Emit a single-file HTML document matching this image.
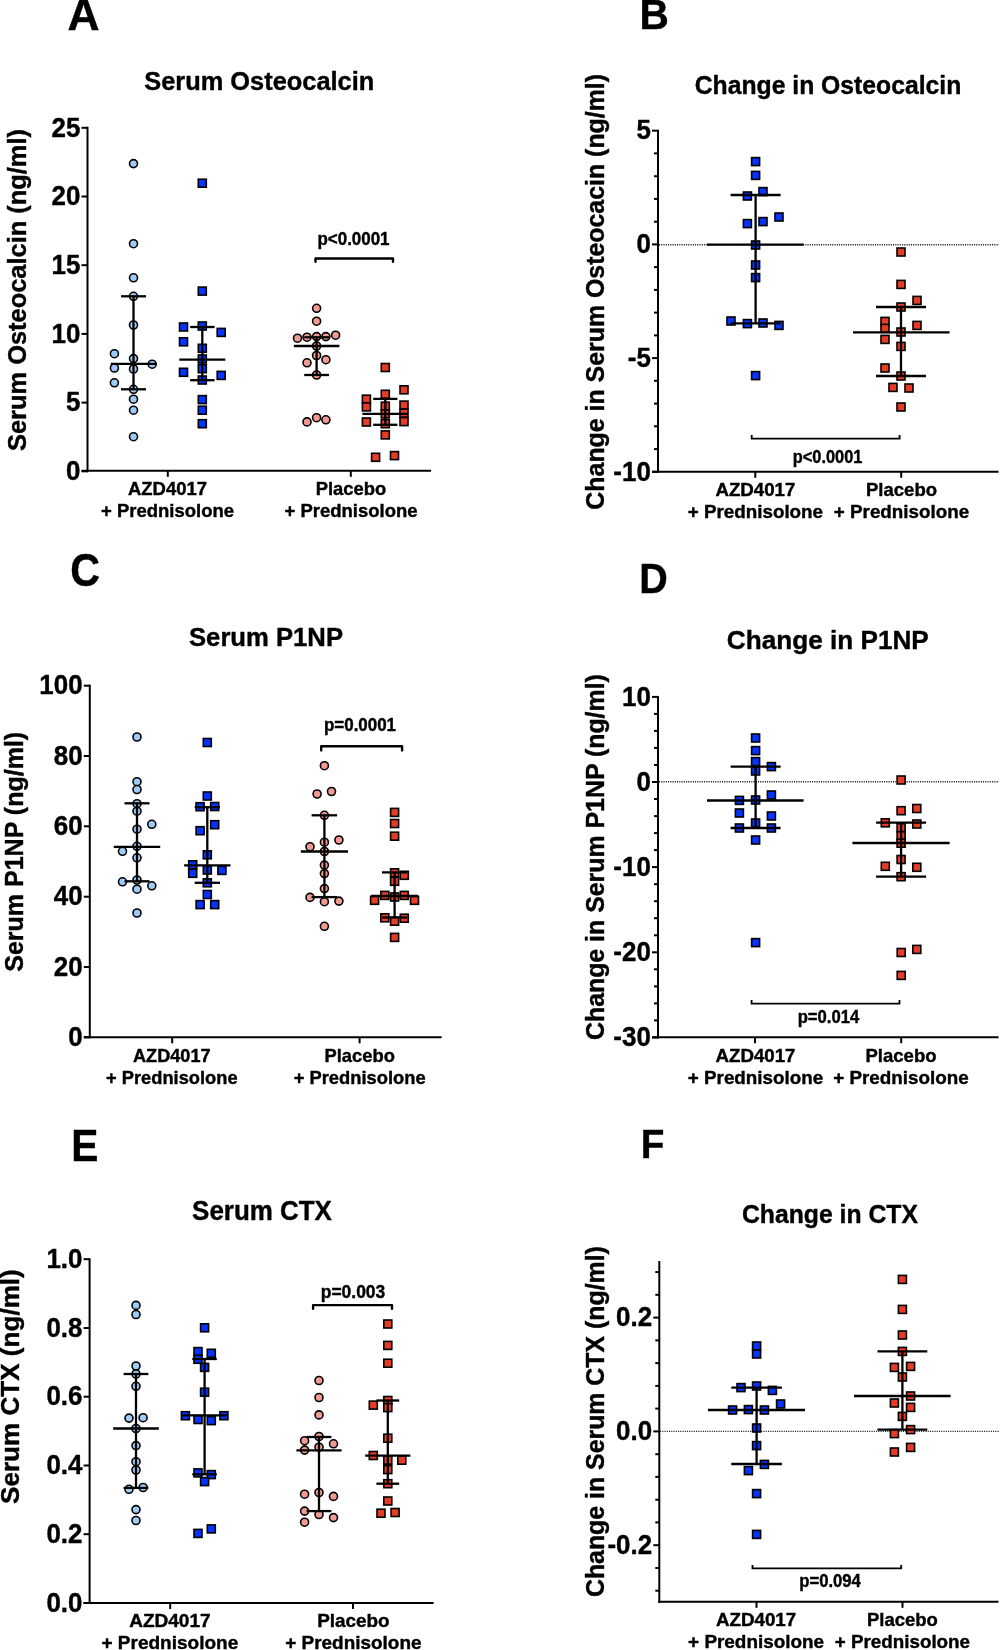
<!DOCTYPE html>
<html><head><meta charset="utf-8"><title>Figure</title>
<style>
html,body{margin:0;padding:0;background:#fff;}
body{width:1000px;height:1650px;overflow:hidden;}
svg{display:block;will-change:transform;}
text{font-family:"Liberation Sans",sans-serif;font-weight:bold;fill:#000;stroke:#000;stroke-width:0.4px;stroke-linejoin:round;}
</style></head>
<body>
<svg width="1000" height="1650" viewBox="0 0 1000 1650">
<rect width="1000" height="1650" fill="#fff"/>
<text transform="translate(67.39,29.75) scale(1.0128,1)" x="0" y="0" font-size="43.84">A</text>
<text x="259.3" y="90.1" font-size="26.5" text-anchor="middle" textLength="230.0" lengthAdjust="spacingAndGlyphs" >Serum Osteocalcin</text>
<text transform="translate(26.2,290.0) rotate(-90)" x="0" y="0" font-size="25.5" text-anchor="middle" textLength="322.0" lengthAdjust="spacingAndGlyphs">Serum Osteocalcin (ng/ml)</text>
<line x1="87.5" y1="126.8" x2="87.5" y2="472.3" stroke="#000" stroke-width="2" />
<line x1="81.5" y1="127.8" x2="87.5" y2="127.8" stroke="#000" stroke-width="2" />
<line x1="81.5" y1="196.5" x2="87.5" y2="196.5" stroke="#000" stroke-width="2" />
<line x1="81.5" y1="265.2" x2="87.5" y2="265.2" stroke="#000" stroke-width="2" />
<line x1="81.5" y1="333.9" x2="87.5" y2="333.9" stroke="#000" stroke-width="2" />
<line x1="81.5" y1="402.6" x2="87.5" y2="402.6" stroke="#000" stroke-width="2" />
<line x1="81.5" y1="471.3" x2="87.5" y2="471.3" stroke="#000" stroke-width="2" />
<text transform="translate(80.30,136.55) scale(0.96,1)" x="0" y="0" font-size="27" text-anchor="end">25</text>
<text transform="translate(80.30,205.25) scale(0.96,1)" x="0" y="0" font-size="27" text-anchor="end">20</text>
<text transform="translate(80.30,273.95) scale(0.96,1)" x="0" y="0" font-size="27" text-anchor="end">15</text>
<text transform="translate(80.30,342.65) scale(0.96,1)" x="0" y="0" font-size="27" text-anchor="end">10</text>
<text transform="translate(80.30,411.35) scale(0.96,1)" x="0" y="0" font-size="27" text-anchor="end">5</text>
<text transform="translate(80.30,480.05) scale(0.96,1)" x="0" y="0" font-size="27" text-anchor="end">0</text>
<line x1="81.5" y1="470.8" x2="431.0" y2="470.8" stroke="#000" stroke-width="2" />
<line x1="167.8" y1="470.8" x2="167.8" y2="476.8" stroke="#000" stroke-width="2" />
<line x1="350.8" y1="470.8" x2="350.8" y2="476.8" stroke="#000" stroke-width="2" />
<text x="167.5" y="495.0" font-size="18.5" text-anchor="middle" textLength="79.0" lengthAdjust="spacingAndGlyphs" >AZD4017</text>
<text x="167.5" y="516.8" font-size="18.5" text-anchor="middle" textLength="133.0" lengthAdjust="spacingAndGlyphs" >+ Prednisolone</text>
<text x="351.0" y="495.0" font-size="18.5" text-anchor="middle" textLength="70.5" lengthAdjust="spacingAndGlyphs" >Placebo</text>
<text x="351.0" y="516.8" font-size="18.5" text-anchor="middle" textLength="133.0" lengthAdjust="spacingAndGlyphs" >+ Prednisolone</text>
<circle cx="133.50" cy="163.60" r="4.0" fill="#9ecbf5" stroke="#000" stroke-width="1.6"/>
<circle cx="133.50" cy="243.70" r="4.0" fill="#9ecbf5" stroke="#000" stroke-width="1.6"/>
<circle cx="133.50" cy="277.80" r="4.0" fill="#9ecbf5" stroke="#000" stroke-width="1.6"/>
<circle cx="133.50" cy="296.30" r="4.0" fill="#9ecbf5" stroke="#000" stroke-width="1.6"/>
<circle cx="133.50" cy="325.00" r="4.0" fill="#9ecbf5" stroke="#000" stroke-width="1.6"/>
<circle cx="114.40" cy="353.70" r="4.0" fill="#9ecbf5" stroke="#000" stroke-width="1.6"/>
<circle cx="133.50" cy="358.60" r="4.0" fill="#9ecbf5" stroke="#000" stroke-width="1.6"/>
<circle cx="152.20" cy="364.20" r="4.0" fill="#9ecbf5" stroke="#000" stroke-width="1.6"/>
<circle cx="114.40" cy="368.00" r="4.0" fill="#9ecbf5" stroke="#000" stroke-width="1.6"/>
<circle cx="133.50" cy="369.00" r="4.0" fill="#9ecbf5" stroke="#000" stroke-width="1.6"/>
<circle cx="114.40" cy="382.80" r="4.0" fill="#9ecbf5" stroke="#000" stroke-width="1.6"/>
<circle cx="133.50" cy="389.30" r="4.0" fill="#9ecbf5" stroke="#000" stroke-width="1.6"/>
<circle cx="133.50" cy="399.20" r="4.0" fill="#9ecbf5" stroke="#000" stroke-width="1.6"/>
<circle cx="133.50" cy="410.20" r="4.0" fill="#9ecbf5" stroke="#000" stroke-width="1.6"/>
<circle cx="133.50" cy="436.70" r="4.0" fill="#9ecbf5" stroke="#000" stroke-width="1.6"/>
<line x1="133.5" y1="296.3" x2="133.5" y2="389.3" stroke="#000" stroke-width="2.3" />
<line x1="121.0" y1="296.3" x2="146.0" y2="296.3" stroke="#000" stroke-width="2.3" />
<line x1="121.0" y1="389.3" x2="146.0" y2="389.3" stroke="#000" stroke-width="2.3" />
<line x1="110.8" y1="363.8" x2="156.2" y2="363.8" stroke="#000" stroke-width="2.3" />
<rect x="198.30" y="179.20" width="8.0" height="8.0" fill="#0533ff" stroke="#000" stroke-width="1.6"/>
<rect x="198.30" y="287.10" width="8.0" height="8.0" fill="#0533ff" stroke="#000" stroke-width="1.6"/>
<rect x="179.50" y="323.00" width="8.0" height="8.0" fill="#0533ff" stroke="#000" stroke-width="1.6"/>
<rect x="198.30" y="322.00" width="8.0" height="8.0" fill="#0533ff" stroke="#000" stroke-width="1.6"/>
<rect x="217.20" y="328.40" width="8.0" height="8.0" fill="#0533ff" stroke="#000" stroke-width="1.6"/>
<rect x="179.50" y="337.80" width="8.0" height="8.0" fill="#0533ff" stroke="#000" stroke-width="1.6"/>
<rect x="198.30" y="344.30" width="8.0" height="8.0" fill="#0533ff" stroke="#000" stroke-width="1.6"/>
<rect x="198.30" y="355.00" width="8.0" height="8.0" fill="#0533ff" stroke="#000" stroke-width="1.6"/>
<rect x="198.30" y="364.70" width="8.0" height="8.0" fill="#0533ff" stroke="#000" stroke-width="1.6"/>
<rect x="179.50" y="368.30" width="8.0" height="8.0" fill="#0533ff" stroke="#000" stroke-width="1.6"/>
<rect x="217.20" y="371.40" width="8.0" height="8.0" fill="#0533ff" stroke="#000" stroke-width="1.6"/>
<rect x="198.30" y="376.00" width="8.0" height="8.0" fill="#0533ff" stroke="#000" stroke-width="1.6"/>
<rect x="198.30" y="395.60" width="8.0" height="8.0" fill="#0533ff" stroke="#000" stroke-width="1.6"/>
<rect x="198.30" y="406.20" width="8.0" height="8.0" fill="#0533ff" stroke="#000" stroke-width="1.6"/>
<rect x="198.30" y="419.70" width="8.0" height="8.0" fill="#0533ff" stroke="#000" stroke-width="1.6"/>
<line x1="202.3" y1="327.0" x2="202.3" y2="380.2" stroke="#000" stroke-width="2.3" />
<line x1="190.1" y1="327.0" x2="214.6" y2="327.0" stroke="#000" stroke-width="2.3" />
<line x1="190.1" y1="380.2" x2="214.6" y2="380.2" stroke="#000" stroke-width="2.3" />
<line x1="179.3" y1="359.6" x2="225.3" y2="359.6" stroke="#000" stroke-width="2.3" />
<circle cx="316.60" cy="308.30" r="4.0" fill="#f19a91" stroke="#000" stroke-width="1.6"/>
<circle cx="316.60" cy="321.20" r="4.0" fill="#f19a91" stroke="#000" stroke-width="1.6"/>
<circle cx="297.50" cy="338.20" r="4.0" fill="#f19a91" stroke="#000" stroke-width="1.6"/>
<circle cx="307.00" cy="337.20" r="4.0" fill="#f19a91" stroke="#000" stroke-width="1.6"/>
<circle cx="316.60" cy="336.60" r="4.0" fill="#f19a91" stroke="#000" stroke-width="1.6"/>
<circle cx="325.90" cy="336.60" r="4.0" fill="#f19a91" stroke="#000" stroke-width="1.6"/>
<circle cx="335.60" cy="335.20" r="4.0" fill="#f19a91" stroke="#000" stroke-width="1.6"/>
<circle cx="316.60" cy="346.00" r="4.0" fill="#f19a91" stroke="#000" stroke-width="1.6"/>
<circle cx="316.60" cy="355.50" r="4.0" fill="#f19a91" stroke="#000" stroke-width="1.6"/>
<circle cx="307.00" cy="362.80" r="4.0" fill="#f19a91" stroke="#000" stroke-width="1.6"/>
<circle cx="325.90" cy="359.70" r="4.0" fill="#f19a91" stroke="#000" stroke-width="1.6"/>
<circle cx="316.60" cy="375.00" r="4.0" fill="#f19a91" stroke="#000" stroke-width="1.6"/>
<circle cx="307.00" cy="421.90" r="4.0" fill="#f19a91" stroke="#000" stroke-width="1.6"/>
<circle cx="316.60" cy="417.70" r="4.0" fill="#f19a91" stroke="#000" stroke-width="1.6"/>
<circle cx="325.90" cy="419.80" r="4.0" fill="#f19a91" stroke="#000" stroke-width="1.6"/>
<line x1="316.6" y1="337.3" x2="316.6" y2="375.0" stroke="#000" stroke-width="2.3" />
<line x1="304.2" y1="337.3" x2="329.0" y2="337.3" stroke="#000" stroke-width="2.3" />
<line x1="304.2" y1="375.0" x2="329.0" y2="375.0" stroke="#000" stroke-width="2.3" />
<line x1="293.9" y1="346.0" x2="339.4" y2="346.0" stroke="#000" stroke-width="2.3" />
<rect x="381.30" y="363.50" width="8.0" height="8.0" fill="#e63c27" stroke="#000" stroke-width="1.6"/>
<rect x="400.00" y="385.80" width="8.0" height="8.0" fill="#e63c27" stroke="#000" stroke-width="1.6"/>
<rect x="381.30" y="390.30" width="8.0" height="8.0" fill="#e63c27" stroke="#000" stroke-width="1.6"/>
<rect x="362.40" y="395.20" width="8.0" height="8.0" fill="#e63c27" stroke="#000" stroke-width="1.6"/>
<rect x="362.40" y="402.90" width="8.0" height="8.0" fill="#e63c27" stroke="#000" stroke-width="1.6"/>
<rect x="381.30" y="402.20" width="8.0" height="8.0" fill="#e63c27" stroke="#000" stroke-width="1.6"/>
<rect x="400.00" y="401.10" width="8.0" height="8.0" fill="#e63c27" stroke="#000" stroke-width="1.6"/>
<rect x="400.00" y="409.20" width="8.0" height="8.0" fill="#e63c27" stroke="#000" stroke-width="1.6"/>
<rect x="381.30" y="409.90" width="8.0" height="8.0" fill="#e63c27" stroke="#000" stroke-width="1.6"/>
<rect x="400.00" y="417.60" width="8.0" height="8.0" fill="#e63c27" stroke="#000" stroke-width="1.6"/>
<rect x="362.40" y="418.00" width="8.0" height="8.0" fill="#e63c27" stroke="#000" stroke-width="1.6"/>
<rect x="381.30" y="419.70" width="8.0" height="8.0" fill="#e63c27" stroke="#000" stroke-width="1.6"/>
<rect x="381.30" y="430.90" width="8.0" height="8.0" fill="#e63c27" stroke="#000" stroke-width="1.6"/>
<rect x="371.60" y="453.30" width="8.0" height="8.0" fill="#e63c27" stroke="#000" stroke-width="1.6"/>
<rect x="390.50" y="451.60" width="8.0" height="8.0" fill="#e63c27" stroke="#000" stroke-width="1.6"/>
<line x1="385.3" y1="398.9" x2="385.3" y2="424.8" stroke="#000" stroke-width="2.3" />
<line x1="373.2" y1="398.9" x2="397.4" y2="398.9" stroke="#000" stroke-width="2.3" />
<line x1="373.2" y1="424.8" x2="397.4" y2="424.8" stroke="#000" stroke-width="2.3" />
<line x1="362.4" y1="413.9" x2="408.2" y2="413.9" stroke="#000" stroke-width="2.3" />
<text x="353.5" y="245.2" font-size="17.9" text-anchor="middle" textLength="72.0" lengthAdjust="spacingAndGlyphs" >p&lt;0.0001</text>
<path d="M315.5,261.8 L315.5,258.5 L393.0,258.5 L393.0,261.8" fill="none" stroke="#000" stroke-width="2.4" stroke-linecap="round" stroke-linejoin="round"/>
<text transform="translate(639.56,28.80) scale(0.9477,1)" x="0" y="0" font-size="42.90">B</text>
<text x="828.0" y="94.1" font-size="26.2" text-anchor="middle" textLength="266.5" lengthAdjust="spacingAndGlyphs" >Change in Osteocalcin</text>
<text transform="translate(603.9,291.8) rotate(-90)" x="0" y="0" font-size="26" text-anchor="middle" textLength="435.7" lengthAdjust="spacingAndGlyphs">Change in Serum Osteocacin (ng/ml)</text>
<line x1="658.0" y1="129.7" x2="658.0" y2="472.8" stroke="#000" stroke-width="2" />
<line x1="652.0" y1="130.7" x2="658.0" y2="130.7" stroke="#000" stroke-width="2" />
<line x1="652.0" y1="244.4" x2="658.0" y2="244.4" stroke="#000" stroke-width="2" />
<line x1="652.0" y1="358.1" x2="658.0" y2="358.1" stroke="#000" stroke-width="2" />
<line x1="652.0" y1="471.8" x2="658.0" y2="471.8" stroke="#000" stroke-width="2" />
<line x1="654.0" y1="449.1" x2="658.0" y2="449.1" stroke="#000" stroke-width="2" />
<line x1="654.0" y1="426.3" x2="658.0" y2="426.3" stroke="#000" stroke-width="2" />
<line x1="654.0" y1="403.6" x2="658.0" y2="403.6" stroke="#000" stroke-width="2" />
<line x1="654.0" y1="380.8" x2="658.0" y2="380.8" stroke="#000" stroke-width="2" />
<line x1="654.0" y1="335.4" x2="658.0" y2="335.4" stroke="#000" stroke-width="2" />
<line x1="654.0" y1="312.6" x2="658.0" y2="312.6" stroke="#000" stroke-width="2" />
<line x1="654.0" y1="289.9" x2="658.0" y2="289.9" stroke="#000" stroke-width="2" />
<line x1="654.0" y1="267.1" x2="658.0" y2="267.1" stroke="#000" stroke-width="2" />
<line x1="654.0" y1="221.7" x2="658.0" y2="221.7" stroke="#000" stroke-width="2" />
<line x1="654.0" y1="198.9" x2="658.0" y2="198.9" stroke="#000" stroke-width="2" />
<line x1="654.0" y1="176.2" x2="658.0" y2="176.2" stroke="#000" stroke-width="2" />
<line x1="654.0" y1="153.4" x2="658.0" y2="153.4" stroke="#000" stroke-width="2" />
<text transform="translate(650.80,139.45) scale(0.96,1)" x="0" y="0" font-size="27" text-anchor="end">5</text>
<text transform="translate(650.80,253.15) scale(0.96,1)" x="0" y="0" font-size="27" text-anchor="end">0</text>
<text transform="translate(650.80,366.85) scale(0.96,1)" x="0" y="0" font-size="27" text-anchor="end">-5</text>
<text transform="translate(650.80,480.55) scale(0.96,1)" x="0" y="0" font-size="27" text-anchor="end">-10</text>
<line x1="659.0" y1="244.7" x2="999.0" y2="244.7" stroke="#222" stroke-width="1.4" stroke-dasharray="1.1,1.15"/>
<line x1="652.0" y1="471.8" x2="998.5" y2="471.8" stroke="#000" stroke-width="2" />
<line x1="755.3" y1="471.8" x2="755.3" y2="477.8" stroke="#000" stroke-width="2" />
<line x1="901.2" y1="471.8" x2="901.2" y2="477.8" stroke="#000" stroke-width="2" />
<text x="755.4" y="496.0" font-size="18.5" text-anchor="middle" textLength="80.0" lengthAdjust="spacingAndGlyphs" >AZD4017</text>
<text x="755.4" y="518.1" font-size="18.5" text-anchor="middle" textLength="135.3" lengthAdjust="spacingAndGlyphs" >+ Prednisolone</text>
<text x="901.5" y="496.0" font-size="18.5" text-anchor="middle" textLength="71.0" lengthAdjust="spacingAndGlyphs" >Placebo</text>
<text x="901.5" y="518.1" font-size="18.5" text-anchor="middle" textLength="135.3" lengthAdjust="spacingAndGlyphs" >+ Prednisolone</text>
<rect x="751.60" y="157.60" width="8.0" height="8.0" fill="#0533ff" stroke="#000" stroke-width="1.6"/>
<rect x="751.60" y="171.40" width="8.0" height="8.0" fill="#0533ff" stroke="#000" stroke-width="1.6"/>
<rect x="743.40" y="192.00" width="8.0" height="8.0" fill="#0533ff" stroke="#000" stroke-width="1.6"/>
<rect x="759.00" y="187.60" width="8.0" height="8.0" fill="#0533ff" stroke="#000" stroke-width="1.6"/>
<rect x="775.00" y="213.00" width="8.0" height="8.0" fill="#0533ff" stroke="#000" stroke-width="1.6"/>
<rect x="743.40" y="219.60" width="8.0" height="8.0" fill="#0533ff" stroke="#000" stroke-width="1.6"/>
<rect x="759.00" y="217.60" width="8.0" height="8.0" fill="#0533ff" stroke="#000" stroke-width="1.6"/>
<rect x="751.60" y="241.00" width="8.0" height="8.0" fill="#0533ff" stroke="#000" stroke-width="1.6"/>
<rect x="751.60" y="261.00" width="8.0" height="8.0" fill="#0533ff" stroke="#000" stroke-width="1.6"/>
<rect x="751.60" y="273.60" width="8.0" height="8.0" fill="#0533ff" stroke="#000" stroke-width="1.6"/>
<rect x="727.00" y="317.00" width="8.0" height="8.0" fill="#0533ff" stroke="#000" stroke-width="1.6"/>
<rect x="743.40" y="319.60" width="8.0" height="8.0" fill="#0533ff" stroke="#000" stroke-width="1.6"/>
<rect x="759.00" y="319.00" width="8.0" height="8.0" fill="#0533ff" stroke="#000" stroke-width="1.6"/>
<rect x="775.00" y="321.40" width="8.0" height="8.0" fill="#0533ff" stroke="#000" stroke-width="1.6"/>
<rect x="751.60" y="371.60" width="8.0" height="8.0" fill="#0533ff" stroke="#000" stroke-width="1.6"/>
<line x1="755.6" y1="195.0" x2="755.6" y2="323.4" stroke="#000" stroke-width="2.3" />
<line x1="730.6" y1="195.0" x2="780.6" y2="195.0" stroke="#000" stroke-width="2.3" />
<line x1="730.6" y1="323.4" x2="780.6" y2="323.4" stroke="#000" stroke-width="2.3" />
<line x1="707.0" y1="244.6" x2="803.6" y2="244.6" stroke="#000" stroke-width="2.3" />
<rect x="897.00" y="248.00" width="8.0" height="8.0" fill="#e63c27" stroke="#000" stroke-width="1.6"/>
<rect x="897.00" y="280.40" width="8.0" height="8.0" fill="#e63c27" stroke="#000" stroke-width="1.6"/>
<rect x="913.00" y="296.40" width="8.0" height="8.0" fill="#e63c27" stroke="#000" stroke-width="1.6"/>
<rect x="897.00" y="303.00" width="8.0" height="8.0" fill="#e63c27" stroke="#000" stroke-width="1.6"/>
<rect x="881.00" y="317.40" width="8.0" height="8.0" fill="#e63c27" stroke="#000" stroke-width="1.6"/>
<rect x="881.00" y="324.40" width="8.0" height="8.0" fill="#e63c27" stroke="#000" stroke-width="1.6"/>
<rect x="913.00" y="321.40" width="8.0" height="8.0" fill="#e63c27" stroke="#000" stroke-width="1.6"/>
<rect x="897.00" y="328.00" width="8.0" height="8.0" fill="#e63c27" stroke="#000" stroke-width="1.6"/>
<rect x="881.00" y="335.40" width="8.0" height="8.0" fill="#e63c27" stroke="#000" stroke-width="1.6"/>
<rect x="897.00" y="342.40" width="8.0" height="8.0" fill="#e63c27" stroke="#000" stroke-width="1.6"/>
<rect x="881.00" y="364.00" width="8.0" height="8.0" fill="#e63c27" stroke="#000" stroke-width="1.6"/>
<rect x="897.00" y="372.00" width="8.0" height="8.0" fill="#e63c27" stroke="#000" stroke-width="1.6"/>
<rect x="889.00" y="383.40" width="8.0" height="8.0" fill="#e63c27" stroke="#000" stroke-width="1.6"/>
<rect x="905.00" y="384.00" width="8.0" height="8.0" fill="#e63c27" stroke="#000" stroke-width="1.6"/>
<rect x="897.00" y="403.00" width="8.0" height="8.0" fill="#e63c27" stroke="#000" stroke-width="1.6"/>
<line x1="901.0" y1="307.0" x2="901.0" y2="376.0" stroke="#000" stroke-width="2.3" />
<line x1="876.0" y1="307.0" x2="926.0" y2="307.0" stroke="#000" stroke-width="2.3" />
<line x1="876.0" y1="376.0" x2="926.0" y2="376.0" stroke="#000" stroke-width="2.3" />
<line x1="853.0" y1="332.4" x2="949.6" y2="332.4" stroke="#000" stroke-width="2.3" />
<path d="M751.7,435.0 L751.7,438.6 L899.6,438.6 L899.6,435.0" fill="none" stroke="#000" stroke-width="1.8" stroke-linecap="butt" stroke-linejoin="miter"/>
<text x="827.6" y="463.3" font-size="17.6" text-anchor="middle" textLength="69.5" lengthAdjust="spacingAndGlyphs" >p&lt;0.0001</text>
<text transform="translate(70.35,586.05) scale(0.9075,1)" x="0" y="0" font-size="45.42">C</text>
<text x="266.0" y="646.2" font-size="26.6" text-anchor="middle" textLength="154.0" lengthAdjust="spacingAndGlyphs" >Serum P1NP</text>
<text transform="translate(22.8,851.8) rotate(-90)" x="0" y="0" font-size="25.5" text-anchor="middle" textLength="240.0" lengthAdjust="spacingAndGlyphs">Serum P1NP (ng/ml)</text>
<line x1="89.8" y1="684.7" x2="89.8" y2="1038.3" stroke="#000" stroke-width="2" />
<line x1="83.8" y1="685.7" x2="89.8" y2="685.7" stroke="#000" stroke-width="2" />
<line x1="83.8" y1="756.0" x2="89.8" y2="756.0" stroke="#000" stroke-width="2" />
<line x1="83.8" y1="826.3" x2="89.8" y2="826.3" stroke="#000" stroke-width="2" />
<line x1="83.8" y1="896.7" x2="89.8" y2="896.7" stroke="#000" stroke-width="2" />
<line x1="83.8" y1="967.0" x2="89.8" y2="967.0" stroke="#000" stroke-width="2" />
<line x1="83.8" y1="1037.3" x2="89.8" y2="1037.3" stroke="#000" stroke-width="2" />
<text transform="translate(82.60,694.45) scale(0.96,1)" x="0" y="0" font-size="27" text-anchor="end">100</text>
<text transform="translate(82.60,764.77) scale(0.96,1)" x="0" y="0" font-size="27" text-anchor="end">80</text>
<text transform="translate(82.60,835.09) scale(0.96,1)" x="0" y="0" font-size="27" text-anchor="end">60</text>
<text transform="translate(82.60,905.41) scale(0.96,1)" x="0" y="0" font-size="27" text-anchor="end">40</text>
<text transform="translate(82.60,975.73) scale(0.96,1)" x="0" y="0" font-size="27" text-anchor="end">20</text>
<text transform="translate(82.60,1046.05) scale(0.96,1)" x="0" y="0" font-size="27" text-anchor="end">0</text>
<line x1="83.8" y1="1037.3" x2="441.6" y2="1037.3" stroke="#000" stroke-width="2" />
<line x1="172.2" y1="1037.3" x2="172.2" y2="1043.3" stroke="#000" stroke-width="2" />
<line x1="359.6" y1="1037.3" x2="359.6" y2="1043.3" stroke="#000" stroke-width="2" />
<text x="171.8" y="1062.0" font-size="18.5" text-anchor="middle" textLength="77.5" lengthAdjust="spacingAndGlyphs" >AZD4017</text>
<text x="171.8" y="1083.8" font-size="18.5" text-anchor="middle" textLength="131.5" lengthAdjust="spacingAndGlyphs" >+ Prednisolone</text>
<text x="359.7" y="1062.0" font-size="18.5" text-anchor="middle" textLength="70.5" lengthAdjust="spacingAndGlyphs" >Placebo</text>
<text x="359.7" y="1083.8" font-size="18.5" text-anchor="middle" textLength="132.0" lengthAdjust="spacingAndGlyphs" >+ Prednisolone</text>
<circle cx="137.00" cy="737.00" r="4.0" fill="#9ecbf5" stroke="#000" stroke-width="1.6"/>
<circle cx="137.00" cy="781.70" r="4.0" fill="#9ecbf5" stroke="#000" stroke-width="1.6"/>
<circle cx="137.00" cy="789.50" r="4.0" fill="#9ecbf5" stroke="#000" stroke-width="1.6"/>
<circle cx="137.00" cy="803.70" r="4.0" fill="#9ecbf5" stroke="#000" stroke-width="1.6"/>
<circle cx="137.00" cy="811.20" r="4.0" fill="#9ecbf5" stroke="#000" stroke-width="1.6"/>
<circle cx="151.80" cy="824.30" r="4.0" fill="#9ecbf5" stroke="#000" stroke-width="1.6"/>
<circle cx="137.00" cy="829.20" r="4.0" fill="#9ecbf5" stroke="#000" stroke-width="1.6"/>
<circle cx="137.00" cy="846.30" r="4.0" fill="#9ecbf5" stroke="#000" stroke-width="1.6"/>
<circle cx="122.50" cy="851.30" r="4.0" fill="#9ecbf5" stroke="#000" stroke-width="1.6"/>
<circle cx="137.00" cy="857.80" r="4.0" fill="#9ecbf5" stroke="#000" stroke-width="1.6"/>
<circle cx="137.00" cy="880.00" r="4.0" fill="#9ecbf5" stroke="#000" stroke-width="1.6"/>
<circle cx="122.50" cy="881.80" r="4.0" fill="#9ecbf5" stroke="#000" stroke-width="1.6"/>
<circle cx="151.80" cy="885.80" r="4.0" fill="#9ecbf5" stroke="#000" stroke-width="1.6"/>
<circle cx="137.00" cy="889.20" r="4.0" fill="#9ecbf5" stroke="#000" stroke-width="1.6"/>
<circle cx="137.00" cy="913.00" r="4.0" fill="#9ecbf5" stroke="#000" stroke-width="1.6"/>
<line x1="137.0" y1="803.3" x2="137.0" y2="881.3" stroke="#000" stroke-width="2.3" />
<line x1="124.5" y1="803.3" x2="149.5" y2="803.3" stroke="#000" stroke-width="2.3" />
<line x1="124.5" y1="881.3" x2="149.5" y2="881.3" stroke="#000" stroke-width="2.3" />
<line x1="113.8" y1="846.9" x2="160.2" y2="846.9" stroke="#000" stroke-width="2.3" />
<rect x="203.30" y="738.50" width="8.0" height="8.0" fill="#0533ff" stroke="#000" stroke-width="1.6"/>
<rect x="203.30" y="792.00" width="8.0" height="8.0" fill="#0533ff" stroke="#000" stroke-width="1.6"/>
<rect x="196.10" y="802.70" width="8.0" height="8.0" fill="#0533ff" stroke="#000" stroke-width="1.6"/>
<rect x="210.70" y="802.50" width="8.0" height="8.0" fill="#0533ff" stroke="#000" stroke-width="1.6"/>
<rect x="210.70" y="820.70" width="8.0" height="8.0" fill="#0533ff" stroke="#000" stroke-width="1.6"/>
<rect x="196.10" y="826.70" width="8.0" height="8.0" fill="#0533ff" stroke="#000" stroke-width="1.6"/>
<rect x="203.30" y="850.80" width="8.0" height="8.0" fill="#0533ff" stroke="#000" stroke-width="1.6"/>
<rect x="188.70" y="860.80" width="8.0" height="8.0" fill="#0533ff" stroke="#000" stroke-width="1.6"/>
<rect x="188.70" y="869.30" width="8.0" height="8.0" fill="#0533ff" stroke="#000" stroke-width="1.6"/>
<rect x="203.30" y="866.00" width="8.0" height="8.0" fill="#0533ff" stroke="#000" stroke-width="1.6"/>
<rect x="217.90" y="866.40" width="8.0" height="8.0" fill="#0533ff" stroke="#000" stroke-width="1.6"/>
<rect x="203.30" y="878.80" width="8.0" height="8.0" fill="#0533ff" stroke="#000" stroke-width="1.6"/>
<rect x="203.30" y="890.50" width="8.0" height="8.0" fill="#0533ff" stroke="#000" stroke-width="1.6"/>
<rect x="196.10" y="900.60" width="8.0" height="8.0" fill="#0533ff" stroke="#000" stroke-width="1.6"/>
<rect x="210.70" y="900.60" width="8.0" height="8.0" fill="#0533ff" stroke="#000" stroke-width="1.6"/>
<line x1="207.3" y1="807.2" x2="207.3" y2="882.8" stroke="#000" stroke-width="2.3" />
<line x1="194.7" y1="807.2" x2="220.0" y2="807.2" stroke="#000" stroke-width="2.3" />
<line x1="194.7" y1="882.8" x2="220.0" y2="882.8" stroke="#000" stroke-width="2.3" />
<line x1="184.1" y1="865.3" x2="230.5" y2="865.3" stroke="#000" stroke-width="2.3" />
<circle cx="324.40" cy="765.70" r="4.0" fill="#f19a91" stroke="#000" stroke-width="1.6"/>
<circle cx="317.10" cy="794.00" r="4.0" fill="#f19a91" stroke="#000" stroke-width="1.6"/>
<circle cx="331.50" cy="791.50" r="4.0" fill="#f19a91" stroke="#000" stroke-width="1.6"/>
<circle cx="324.40" cy="815.30" r="4.0" fill="#f19a91" stroke="#000" stroke-width="1.6"/>
<circle cx="338.90" cy="840.00" r="4.0" fill="#f19a91" stroke="#000" stroke-width="1.6"/>
<circle cx="324.40" cy="842.20" r="4.0" fill="#f19a91" stroke="#000" stroke-width="1.6"/>
<circle cx="310.00" cy="846.70" r="4.0" fill="#f19a91" stroke="#000" stroke-width="1.6"/>
<circle cx="324.40" cy="851.50" r="4.0" fill="#f19a91" stroke="#000" stroke-width="1.6"/>
<circle cx="324.40" cy="865.10" r="4.0" fill="#f19a91" stroke="#000" stroke-width="1.6"/>
<circle cx="324.40" cy="873.60" r="4.0" fill="#f19a91" stroke="#000" stroke-width="1.6"/>
<circle cx="324.40" cy="888.60" r="4.0" fill="#f19a91" stroke="#000" stroke-width="1.6"/>
<circle cx="310.00" cy="897.40" r="4.0" fill="#f19a91" stroke="#000" stroke-width="1.6"/>
<circle cx="324.40" cy="901.70" r="4.0" fill="#f19a91" stroke="#000" stroke-width="1.6"/>
<circle cx="338.90" cy="901.10" r="4.0" fill="#f19a91" stroke="#000" stroke-width="1.6"/>
<circle cx="324.40" cy="926.30" r="4.0" fill="#f19a91" stroke="#000" stroke-width="1.6"/>
<line x1="324.4" y1="815.3" x2="324.4" y2="897.1" stroke="#000" stroke-width="2.3" />
<line x1="311.6" y1="815.3" x2="337.1" y2="815.3" stroke="#000" stroke-width="2.3" />
<line x1="311.6" y1="897.1" x2="337.1" y2="897.1" stroke="#000" stroke-width="2.3" />
<line x1="300.8" y1="851.5" x2="348.0" y2="851.5" stroke="#000" stroke-width="2.3" />
<rect x="390.60" y="808.40" width="8.0" height="8.0" fill="#e63c27" stroke="#000" stroke-width="1.6"/>
<rect x="390.60" y="819.50" width="8.0" height="8.0" fill="#e63c27" stroke="#000" stroke-width="1.6"/>
<rect x="390.60" y="832.20" width="8.0" height="8.0" fill="#e63c27" stroke="#000" stroke-width="1.6"/>
<rect x="390.60" y="868.80" width="8.0" height="8.0" fill="#e63c27" stroke="#000" stroke-width="1.6"/>
<rect x="400.30" y="871.30" width="8.0" height="8.0" fill="#e63c27" stroke="#000" stroke-width="1.6"/>
<rect x="390.60" y="877.30" width="8.0" height="8.0" fill="#e63c27" stroke="#000" stroke-width="1.6"/>
<rect x="380.80" y="891.40" width="8.0" height="8.0" fill="#e63c27" stroke="#000" stroke-width="1.6"/>
<rect x="400.30" y="891.40" width="8.0" height="8.0" fill="#e63c27" stroke="#000" stroke-width="1.6"/>
<rect x="370.60" y="896.30" width="8.0" height="8.0" fill="#e63c27" stroke="#000" stroke-width="1.6"/>
<rect x="410.50" y="896.30" width="8.0" height="8.0" fill="#e63c27" stroke="#000" stroke-width="1.6"/>
<rect x="390.60" y="893.00" width="8.0" height="8.0" fill="#e63c27" stroke="#000" stroke-width="1.6"/>
<rect x="380.80" y="913.80" width="8.0" height="8.0" fill="#e63c27" stroke="#000" stroke-width="1.6"/>
<rect x="400.30" y="914.20" width="8.0" height="8.0" fill="#e63c27" stroke="#000" stroke-width="1.6"/>
<rect x="390.60" y="917.20" width="8.0" height="8.0" fill="#e63c27" stroke="#000" stroke-width="1.6"/>
<rect x="390.60" y="933.40" width="8.0" height="8.0" fill="#e63c27" stroke="#000" stroke-width="1.6"/>
<line x1="394.6" y1="872.4" x2="394.6" y2="917.5" stroke="#000" stroke-width="2.3" />
<line x1="382.0" y1="872.4" x2="407.2" y2="872.4" stroke="#000" stroke-width="2.3" />
<line x1="382.0" y1="917.5" x2="407.2" y2="917.5" stroke="#000" stroke-width="2.3" />
<line x1="371.2" y1="896.0" x2="418.0" y2="896.0" stroke="#000" stroke-width="2.3" />
<text x="360.0" y="731.4" font-size="17.9" text-anchor="middle" textLength="72.0" lengthAdjust="spacingAndGlyphs" >p=0.0001</text>
<path d="M321.2,750.4 L321.2,746.3 L402.1,746.3 L402.1,750.4" fill="none" stroke="#000" stroke-width="2.4" stroke-linecap="round" stroke-linejoin="round"/>
<text transform="translate(639.13,593.30) scale(0.9401,1)" x="0" y="0" font-size="42.03">D</text>
<text x="827.8" y="649.2" font-size="26.6" text-anchor="middle" textLength="202.0" lengthAdjust="spacingAndGlyphs" >Change in P1NP</text>
<text transform="translate(603.8,857.1) rotate(-90)" x="0" y="0" font-size="25.7" text-anchor="middle" textLength="365.9" lengthAdjust="spacingAndGlyphs">Change in Serum P1NP (ng/ml)</text>
<line x1="658.0" y1="695.9" x2="658.0" y2="1038.5" stroke="#000" stroke-width="2" />
<line x1="652.0" y1="696.9" x2="658.0" y2="696.9" stroke="#000" stroke-width="2" />
<line x1="652.0" y1="782.0" x2="658.0" y2="782.0" stroke="#000" stroke-width="2" />
<line x1="652.0" y1="867.1" x2="658.0" y2="867.1" stroke="#000" stroke-width="2" />
<line x1="652.0" y1="952.3" x2="658.0" y2="952.3" stroke="#000" stroke-width="2" />
<line x1="652.0" y1="1037.5" x2="658.0" y2="1037.5" stroke="#000" stroke-width="2" />
<line x1="654.0" y1="1020.4" x2="658.0" y2="1020.4" stroke="#000" stroke-width="2" />
<line x1="654.0" y1="1003.4" x2="658.0" y2="1003.4" stroke="#000" stroke-width="2" />
<line x1="654.0" y1="986.4" x2="658.0" y2="986.4" stroke="#000" stroke-width="2" />
<line x1="654.0" y1="969.3" x2="658.0" y2="969.3" stroke="#000" stroke-width="2" />
<line x1="654.0" y1="935.3" x2="658.0" y2="935.3" stroke="#000" stroke-width="2" />
<line x1="654.0" y1="918.2" x2="658.0" y2="918.2" stroke="#000" stroke-width="2" />
<line x1="654.0" y1="901.2" x2="658.0" y2="901.2" stroke="#000" stroke-width="2" />
<line x1="654.0" y1="884.2" x2="658.0" y2="884.2" stroke="#000" stroke-width="2" />
<line x1="654.0" y1="850.1" x2="658.0" y2="850.1" stroke="#000" stroke-width="2" />
<line x1="654.0" y1="833.1" x2="658.0" y2="833.1" stroke="#000" stroke-width="2" />
<line x1="654.0" y1="816.1" x2="658.0" y2="816.1" stroke="#000" stroke-width="2" />
<line x1="654.0" y1="799.0" x2="658.0" y2="799.0" stroke="#000" stroke-width="2" />
<line x1="654.0" y1="765.0" x2="658.0" y2="765.0" stroke="#000" stroke-width="2" />
<line x1="654.0" y1="747.9" x2="658.0" y2="747.9" stroke="#000" stroke-width="2" />
<line x1="654.0" y1="730.9" x2="658.0" y2="730.9" stroke="#000" stroke-width="2" />
<line x1="654.0" y1="713.9" x2="658.0" y2="713.9" stroke="#000" stroke-width="2" />
<text transform="translate(650.80,705.60) scale(0.96,1)" x="0" y="0" font-size="27" text-anchor="end">10</text>
<text transform="translate(650.80,790.75) scale(0.96,1)" x="0" y="0" font-size="27" text-anchor="end">0</text>
<text transform="translate(650.80,875.90) scale(0.96,1)" x="0" y="0" font-size="27" text-anchor="end">-10</text>
<text transform="translate(650.80,961.05) scale(0.96,1)" x="0" y="0" font-size="27" text-anchor="end">-20</text>
<text transform="translate(650.80,1046.20) scale(0.96,1)" x="0" y="0" font-size="27" text-anchor="end">-30</text>
<line x1="659.0" y1="781.8" x2="999.0" y2="781.8" stroke="#222" stroke-width="1.4" stroke-dasharray="1.1,1.15"/>
<line x1="652.0" y1="1037.2" x2="998.5" y2="1037.2" stroke="#000" stroke-width="2" />
<line x1="755.0" y1="1037.2" x2="755.0" y2="1043.2" stroke="#000" stroke-width="2" />
<line x1="901.2" y1="1037.2" x2="901.2" y2="1043.2" stroke="#000" stroke-width="2" />
<text x="755.5" y="1061.7" font-size="18.5" text-anchor="middle" textLength="80.0" lengthAdjust="spacingAndGlyphs" >AZD4017</text>
<text x="755.5" y="1083.5" font-size="18.5" text-anchor="middle" textLength="135.3" lengthAdjust="spacingAndGlyphs" >+ Prednisolone</text>
<text x="901.0" y="1061.7" font-size="18.5" text-anchor="middle" textLength="71.0" lengthAdjust="spacingAndGlyphs" >Placebo</text>
<text x="901.0" y="1083.5" font-size="18.5" text-anchor="middle" textLength="135.5" lengthAdjust="spacingAndGlyphs" >+ Prednisolone</text>
<rect x="751.60" y="734.00" width="8.0" height="8.0" fill="#0533ff" stroke="#000" stroke-width="1.6"/>
<rect x="751.60" y="746.60" width="8.0" height="8.0" fill="#0533ff" stroke="#000" stroke-width="1.6"/>
<rect x="751.60" y="757.60" width="8.0" height="8.0" fill="#0533ff" stroke="#000" stroke-width="1.6"/>
<rect x="767.40" y="762.60" width="8.0" height="8.0" fill="#0533ff" stroke="#000" stroke-width="1.6"/>
<rect x="751.60" y="767.00" width="8.0" height="8.0" fill="#0533ff" stroke="#000" stroke-width="1.6"/>
<rect x="767.40" y="791.00" width="8.0" height="8.0" fill="#0533ff" stroke="#000" stroke-width="1.6"/>
<rect x="735.40" y="796.40" width="8.0" height="8.0" fill="#0533ff" stroke="#000" stroke-width="1.6"/>
<rect x="751.60" y="796.00" width="8.0" height="8.0" fill="#0533ff" stroke="#000" stroke-width="1.6"/>
<rect x="735.40" y="809.00" width="8.0" height="8.0" fill="#0533ff" stroke="#000" stroke-width="1.6"/>
<rect x="767.40" y="812.00" width="8.0" height="8.0" fill="#0533ff" stroke="#000" stroke-width="1.6"/>
<rect x="751.60" y="819.00" width="8.0" height="8.0" fill="#0533ff" stroke="#000" stroke-width="1.6"/>
<rect x="735.40" y="824.00" width="8.0" height="8.0" fill="#0533ff" stroke="#000" stroke-width="1.6"/>
<rect x="767.40" y="824.00" width="8.0" height="8.0" fill="#0533ff" stroke="#000" stroke-width="1.6"/>
<rect x="751.60" y="836.00" width="8.0" height="8.0" fill="#0533ff" stroke="#000" stroke-width="1.6"/>
<rect x="751.60" y="938.60" width="8.0" height="8.0" fill="#0533ff" stroke="#000" stroke-width="1.6"/>
<line x1="755.6" y1="766.6" x2="755.6" y2="828.0" stroke="#000" stroke-width="2.3" />
<line x1="730.6" y1="766.6" x2="780.6" y2="766.6" stroke="#000" stroke-width="2.3" />
<line x1="730.6" y1="828.0" x2="780.6" y2="828.0" stroke="#000" stroke-width="2.3" />
<line x1="707.0" y1="800.5" x2="803.6" y2="800.5" stroke="#000" stroke-width="2.3" />
<rect x="897.10" y="776.00" width="8.0" height="8.0" fill="#e63c27" stroke="#000" stroke-width="1.6"/>
<rect x="897.10" y="806.70" width="8.0" height="8.0" fill="#e63c27" stroke="#000" stroke-width="1.6"/>
<rect x="912.80" y="804.50" width="8.0" height="8.0" fill="#e63c27" stroke="#000" stroke-width="1.6"/>
<rect x="881.30" y="818.80" width="8.0" height="8.0" fill="#e63c27" stroke="#000" stroke-width="1.6"/>
<rect x="912.80" y="820.00" width="8.0" height="8.0" fill="#e63c27" stroke="#000" stroke-width="1.6"/>
<rect x="897.10" y="823.70" width="8.0" height="8.0" fill="#e63c27" stroke="#000" stroke-width="1.6"/>
<rect x="897.10" y="831.70" width="8.0" height="8.0" fill="#e63c27" stroke="#000" stroke-width="1.6"/>
<rect x="897.10" y="839.20" width="8.0" height="8.0" fill="#e63c27" stroke="#000" stroke-width="1.6"/>
<rect x="897.10" y="855.50" width="8.0" height="8.0" fill="#e63c27" stroke="#000" stroke-width="1.6"/>
<rect x="881.30" y="862.30" width="8.0" height="8.0" fill="#e63c27" stroke="#000" stroke-width="1.6"/>
<rect x="912.80" y="863.30" width="8.0" height="8.0" fill="#e63c27" stroke="#000" stroke-width="1.6"/>
<rect x="897.10" y="872.70" width="8.0" height="8.0" fill="#e63c27" stroke="#000" stroke-width="1.6"/>
<rect x="897.20" y="948.50" width="8.0" height="8.0" fill="#e63c27" stroke="#000" stroke-width="1.6"/>
<rect x="912.80" y="945.40" width="8.0" height="8.0" fill="#e63c27" stroke="#000" stroke-width="1.6"/>
<rect x="897.20" y="971.40" width="8.0" height="8.0" fill="#e63c27" stroke="#000" stroke-width="1.6"/>
<line x1="901.1" y1="822.6" x2="901.1" y2="876.6" stroke="#000" stroke-width="2.3" />
<line x1="876.1" y1="822.6" x2="926.1" y2="822.6" stroke="#000" stroke-width="2.3" />
<line x1="876.1" y1="876.6" x2="926.1" y2="876.6" stroke="#000" stroke-width="2.3" />
<line x1="852.4" y1="843.0" x2="949.6" y2="843.0" stroke="#000" stroke-width="2.3" />
<path d="M751.6,1000.0 L751.6,1003.6 L899.5,1003.6 L899.5,1000.0" fill="none" stroke="#000" stroke-width="1.8" stroke-linecap="butt" stroke-linejoin="miter"/>
<text x="828.4" y="1022.9" font-size="17.7" text-anchor="middle" textLength="61.5" lengthAdjust="spacingAndGlyphs" >p=0.014</text>
<text transform="translate(71.25,1160.90) scale(0.9363,1)" x="0" y="0" font-size="43.48">E</text>
<text x="262.0" y="1220.0" font-size="26.8" text-anchor="middle" textLength="139.8" lengthAdjust="spacingAndGlyphs" >Serum CTX</text>
<text transform="translate(19.0,1386.6) rotate(-90)" x="0" y="0" font-size="26" text-anchor="middle" textLength="234.7" lengthAdjust="spacingAndGlyphs">Serum CTX (ng/ml)</text>
<line x1="89.6" y1="1258.2" x2="89.6" y2="1604.0" stroke="#000" stroke-width="2" />
<line x1="83.6" y1="1259.2" x2="89.6" y2="1259.2" stroke="#000" stroke-width="2" />
<line x1="83.6" y1="1328.0" x2="89.6" y2="1328.0" stroke="#000" stroke-width="2" />
<line x1="83.6" y1="1396.7" x2="89.6" y2="1396.7" stroke="#000" stroke-width="2" />
<line x1="83.6" y1="1465.5" x2="89.6" y2="1465.5" stroke="#000" stroke-width="2" />
<line x1="83.6" y1="1534.2" x2="89.6" y2="1534.2" stroke="#000" stroke-width="2" />
<line x1="83.6" y1="1603.0" x2="89.6" y2="1603.0" stroke="#000" stroke-width="2" />
<text transform="translate(82.40,1267.95) scale(0.96,1)" x="0" y="0" font-size="27" text-anchor="end">1.0</text>
<text transform="translate(82.40,1336.71) scale(0.96,1)" x="0" y="0" font-size="27" text-anchor="end">0.8</text>
<text transform="translate(82.40,1405.47) scale(0.96,1)" x="0" y="0" font-size="27" text-anchor="end">0.6</text>
<text transform="translate(82.40,1474.23) scale(0.96,1)" x="0" y="0" font-size="27" text-anchor="end">0.4</text>
<text transform="translate(82.40,1542.99) scale(0.96,1)" x="0" y="0" font-size="27" text-anchor="end">0.2</text>
<text transform="translate(82.40,1611.75) scale(0.96,1)" x="0" y="0" font-size="27" text-anchor="end">0.0</text>
<line x1="83.5" y1="1603.0" x2="433.6" y2="1603.0" stroke="#000" stroke-width="2" />
<line x1="170.2" y1="1603.0" x2="170.2" y2="1609.0" stroke="#000" stroke-width="2" />
<line x1="353.0" y1="1603.0" x2="353.0" y2="1609.0" stroke="#000" stroke-width="2" />
<text x="169.9" y="1627.3" font-size="18.5" text-anchor="middle" textLength="81.5" lengthAdjust="spacingAndGlyphs" >AZD4017</text>
<text x="169.9" y="1649.3" font-size="18.5" text-anchor="middle" textLength="136.8" lengthAdjust="spacingAndGlyphs" >+ Prednisolone</text>
<text x="353.4" y="1627.2" font-size="18.5" text-anchor="middle" textLength="72.5" lengthAdjust="spacingAndGlyphs" >Placebo</text>
<text x="353.4" y="1649.2" font-size="18.5" text-anchor="middle" textLength="136.3" lengthAdjust="spacingAndGlyphs" >+ Prednisolone</text>
<circle cx="136.00" cy="1305.40" r="4.0" fill="#9ecbf5" stroke="#000" stroke-width="1.6"/>
<circle cx="136.00" cy="1314.50" r="4.0" fill="#9ecbf5" stroke="#000" stroke-width="1.6"/>
<circle cx="136.00" cy="1366.00" r="4.0" fill="#9ecbf5" stroke="#000" stroke-width="1.6"/>
<circle cx="136.00" cy="1374.00" r="4.0" fill="#9ecbf5" stroke="#000" stroke-width="1.6"/>
<circle cx="136.00" cy="1386.30" r="4.0" fill="#9ecbf5" stroke="#000" stroke-width="1.6"/>
<circle cx="129.00" cy="1418.10" r="4.0" fill="#9ecbf5" stroke="#000" stroke-width="1.6"/>
<circle cx="143.10" cy="1417.70" r="4.0" fill="#9ecbf5" stroke="#000" stroke-width="1.6"/>
<circle cx="136.00" cy="1428.50" r="4.0" fill="#9ecbf5" stroke="#000" stroke-width="1.6"/>
<circle cx="136.00" cy="1445.60" r="4.0" fill="#9ecbf5" stroke="#000" stroke-width="1.6"/>
<circle cx="136.00" cy="1461.70" r="4.0" fill="#9ecbf5" stroke="#000" stroke-width="1.6"/>
<circle cx="136.00" cy="1470.00" r="4.0" fill="#9ecbf5" stroke="#000" stroke-width="1.6"/>
<circle cx="129.00" cy="1489.30" r="4.0" fill="#9ecbf5" stroke="#000" stroke-width="1.6"/>
<circle cx="143.10" cy="1487.50" r="4.0" fill="#9ecbf5" stroke="#000" stroke-width="1.6"/>
<circle cx="136.00" cy="1509.60" r="4.0" fill="#9ecbf5" stroke="#000" stroke-width="1.6"/>
<circle cx="136.00" cy="1520.50" r="4.0" fill="#9ecbf5" stroke="#000" stroke-width="1.6"/>
<line x1="136.0" y1="1374.0" x2="136.0" y2="1487.9" stroke="#000" stroke-width="2.3" />
<line x1="123.6" y1="1374.0" x2="148.4" y2="1374.0" stroke="#000" stroke-width="2.3" />
<line x1="123.6" y1="1487.9" x2="148.4" y2="1487.9" stroke="#000" stroke-width="2.3" />
<line x1="113.2" y1="1428.5" x2="158.8" y2="1428.5" stroke="#000" stroke-width="2.3" />
<rect x="200.60" y="1323.80" width="8.0" height="8.0" fill="#0533ff" stroke="#000" stroke-width="1.6"/>
<rect x="194.00" y="1347.60" width="8.0" height="8.0" fill="#0533ff" stroke="#000" stroke-width="1.6"/>
<rect x="207.30" y="1349.30" width="8.0" height="8.0" fill="#0533ff" stroke="#000" stroke-width="1.6"/>
<rect x="194.00" y="1355.30" width="8.0" height="8.0" fill="#0533ff" stroke="#000" stroke-width="1.6"/>
<rect x="200.60" y="1363.40" width="8.0" height="8.0" fill="#0533ff" stroke="#000" stroke-width="1.6"/>
<rect x="200.60" y="1388.20" width="8.0" height="8.0" fill="#0533ff" stroke="#000" stroke-width="1.6"/>
<rect x="181.40" y="1411.70" width="8.0" height="8.0" fill="#0533ff" stroke="#000" stroke-width="1.6"/>
<rect x="219.90" y="1411.70" width="8.0" height="8.0" fill="#0533ff" stroke="#000" stroke-width="1.6"/>
<rect x="194.00" y="1415.50" width="8.0" height="8.0" fill="#0533ff" stroke="#000" stroke-width="1.6"/>
<rect x="207.30" y="1416.60" width="8.0" height="8.0" fill="#0533ff" stroke="#000" stroke-width="1.6"/>
<rect x="194.00" y="1468.90" width="8.0" height="8.0" fill="#0533ff" stroke="#000" stroke-width="1.6"/>
<rect x="207.30" y="1470.60" width="8.0" height="8.0" fill="#0533ff" stroke="#000" stroke-width="1.6"/>
<rect x="200.60" y="1477.60" width="8.0" height="8.0" fill="#0533ff" stroke="#000" stroke-width="1.6"/>
<rect x="194.00" y="1529.40" width="8.0" height="8.0" fill="#0533ff" stroke="#000" stroke-width="1.6"/>
<rect x="207.30" y="1524.90" width="8.0" height="8.0" fill="#0533ff" stroke="#000" stroke-width="1.6"/>
<line x1="204.6" y1="1359.0" x2="204.6" y2="1474.3" stroke="#000" stroke-width="2.3" />
<line x1="192.3" y1="1359.0" x2="216.8" y2="1359.0" stroke="#000" stroke-width="2.3" />
<line x1="192.3" y1="1474.3" x2="216.8" y2="1474.3" stroke="#000" stroke-width="2.3" />
<line x1="181.2" y1="1415.3" x2="228.0" y2="1415.3" stroke="#000" stroke-width="2.3" />
<circle cx="319.00" cy="1380.50" r="4.0" fill="#f19a91" stroke="#000" stroke-width="1.6"/>
<circle cx="319.00" cy="1397.50" r="4.0" fill="#f19a91" stroke="#000" stroke-width="1.6"/>
<circle cx="319.00" cy="1414.90" r="4.0" fill="#f19a91" stroke="#000" stroke-width="1.6"/>
<circle cx="319.00" cy="1436.50" r="4.0" fill="#f19a91" stroke="#000" stroke-width="1.6"/>
<circle cx="304.60" cy="1440.70" r="4.0" fill="#f19a91" stroke="#000" stroke-width="1.6"/>
<circle cx="333.50" cy="1443.80" r="4.0" fill="#f19a91" stroke="#000" stroke-width="1.6"/>
<circle cx="319.00" cy="1447.20" r="4.0" fill="#f19a91" stroke="#000" stroke-width="1.6"/>
<circle cx="304.60" cy="1450.10" r="4.0" fill="#f19a91" stroke="#000" stroke-width="1.6"/>
<circle cx="304.60" cy="1494.20" r="4.0" fill="#f19a91" stroke="#000" stroke-width="1.6"/>
<circle cx="319.00" cy="1492.50" r="4.0" fill="#f19a91" stroke="#000" stroke-width="1.6"/>
<circle cx="333.50" cy="1496.40" r="4.0" fill="#f19a91" stroke="#000" stroke-width="1.6"/>
<circle cx="304.60" cy="1511.10" r="4.0" fill="#f19a91" stroke="#000" stroke-width="1.6"/>
<circle cx="319.00" cy="1514.50" r="4.0" fill="#f19a91" stroke="#000" stroke-width="1.6"/>
<circle cx="333.50" cy="1517.60" r="4.0" fill="#f19a91" stroke="#000" stroke-width="1.6"/>
<circle cx="304.60" cy="1522.20" r="4.0" fill="#f19a91" stroke="#000" stroke-width="1.6"/>
<line x1="319.0" y1="1437.0" x2="319.0" y2="1511.1" stroke="#000" stroke-width="2.3" />
<line x1="306.6" y1="1437.0" x2="331.4" y2="1437.0" stroke="#000" stroke-width="2.3" />
<line x1="306.6" y1="1511.1" x2="331.4" y2="1511.1" stroke="#000" stroke-width="2.3" />
<line x1="296.4" y1="1450.4" x2="341.6" y2="1450.4" stroke="#000" stroke-width="2.3" />
<rect x="383.80" y="1320.00" width="8.0" height="8.0" fill="#e63c27" stroke="#000" stroke-width="1.6"/>
<rect x="383.80" y="1341.40" width="8.0" height="8.0" fill="#e63c27" stroke="#000" stroke-width="1.6"/>
<rect x="383.80" y="1359.20" width="8.0" height="8.0" fill="#e63c27" stroke="#000" stroke-width="1.6"/>
<rect x="383.80" y="1396.50" width="8.0" height="8.0" fill="#e63c27" stroke="#000" stroke-width="1.6"/>
<rect x="369.30" y="1401.10" width="8.0" height="8.0" fill="#e63c27" stroke="#000" stroke-width="1.6"/>
<rect x="383.80" y="1403.60" width="8.0" height="8.0" fill="#e63c27" stroke="#000" stroke-width="1.6"/>
<rect x="383.80" y="1434.20" width="8.0" height="8.0" fill="#e63c27" stroke="#000" stroke-width="1.6"/>
<rect x="369.30" y="1451.50" width="8.0" height="8.0" fill="#e63c27" stroke="#000" stroke-width="1.6"/>
<rect x="397.80" y="1456.20" width="8.0" height="8.0" fill="#e63c27" stroke="#000" stroke-width="1.6"/>
<rect x="383.80" y="1456.20" width="8.0" height="8.0" fill="#e63c27" stroke="#000" stroke-width="1.6"/>
<rect x="383.80" y="1465.60" width="8.0" height="8.0" fill="#e63c27" stroke="#000" stroke-width="1.6"/>
<rect x="383.80" y="1479.70" width="8.0" height="8.0" fill="#e63c27" stroke="#000" stroke-width="1.6"/>
<rect x="383.80" y="1497.00" width="8.0" height="8.0" fill="#e63c27" stroke="#000" stroke-width="1.6"/>
<rect x="377.00" y="1509.20" width="8.0" height="8.0" fill="#e63c27" stroke="#000" stroke-width="1.6"/>
<rect x="391.10" y="1508.50" width="8.0" height="8.0" fill="#e63c27" stroke="#000" stroke-width="1.6"/>
<line x1="387.8" y1="1400.5" x2="387.8" y2="1483.7" stroke="#000" stroke-width="2.3" />
<line x1="376.4" y1="1400.5" x2="399.2" y2="1400.5" stroke="#000" stroke-width="2.3" />
<line x1="376.4" y1="1483.7" x2="399.2" y2="1483.7" stroke="#000" stroke-width="2.3" />
<line x1="365.2" y1="1455.7" x2="410.4" y2="1455.7" stroke="#000" stroke-width="2.3" />
<text x="353.0" y="1298.2" font-size="18.4" text-anchor="middle" textLength="64.5" lengthAdjust="spacingAndGlyphs" >p=0.003</text>
<path d="M313.1,1308.8 L313.1,1305.1 L392.0,1305.1 L392.0,1308.8" fill="none" stroke="#000" stroke-width="2.4" stroke-linecap="round" stroke-linejoin="round"/>
<text transform="translate(640.73,1157.60) scale(0.9392,1)" x="0" y="0" font-size="41.23">F</text>
<text x="830.0" y="1223.4" font-size="26.4" text-anchor="middle" textLength="176.0" lengthAdjust="spacingAndGlyphs" >Change in CTX</text>
<text transform="translate(603.8,1421.6) rotate(-90)" x="0" y="0" font-size="25.2" text-anchor="middle" textLength="350.9" lengthAdjust="spacingAndGlyphs">Change in Serum CTX (ng/ml)</text>
<line x1="659.3" y1="1261.1" x2="659.3" y2="1603.1" stroke="#000" stroke-width="2" />
<line x1="653.3" y1="1317.6" x2="659.3" y2="1317.6" stroke="#000" stroke-width="2" />
<line x1="653.3" y1="1431.4" x2="659.3" y2="1431.4" stroke="#000" stroke-width="2" />
<line x1="653.3" y1="1545.2" x2="659.3" y2="1545.2" stroke="#000" stroke-width="2" />
<line x1="655.3" y1="1590.7" x2="659.3" y2="1590.7" stroke="#000" stroke-width="2" />
<line x1="655.3" y1="1568.0" x2="659.3" y2="1568.0" stroke="#000" stroke-width="2" />
<line x1="655.3" y1="1522.4" x2="659.3" y2="1522.4" stroke="#000" stroke-width="2" />
<line x1="655.3" y1="1499.7" x2="659.3" y2="1499.7" stroke="#000" stroke-width="2" />
<line x1="655.3" y1="1476.9" x2="659.3" y2="1476.9" stroke="#000" stroke-width="2" />
<line x1="655.3" y1="1454.2" x2="659.3" y2="1454.2" stroke="#000" stroke-width="2" />
<line x1="655.3" y1="1408.6" x2="659.3" y2="1408.6" stroke="#000" stroke-width="2" />
<line x1="655.3" y1="1385.9" x2="659.3" y2="1385.9" stroke="#000" stroke-width="2" />
<line x1="655.3" y1="1363.1" x2="659.3" y2="1363.1" stroke="#000" stroke-width="2" />
<line x1="655.3" y1="1340.4" x2="659.3" y2="1340.4" stroke="#000" stroke-width="2" />
<line x1="655.3" y1="1294.8" x2="659.3" y2="1294.8" stroke="#000" stroke-width="2" />
<line x1="655.3" y1="1272.1" x2="659.3" y2="1272.1" stroke="#000" stroke-width="2" />
<text transform="translate(652.10,1326.35) scale(0.96,1)" x="0" y="0" font-size="27" text-anchor="end">0.2</text>
<text transform="translate(652.10,1440.15) scale(0.96,1)" x="0" y="0" font-size="27" text-anchor="end">0.0</text>
<text transform="translate(652.10,1553.95) scale(0.96,1)" x="0" y="0" font-size="27" text-anchor="end">-0.2</text>
<line x1="660.0" y1="1431.4" x2="999.0" y2="1431.4" stroke="#222" stroke-width="1.4" stroke-dasharray="1.1,1.15"/>
<line x1="658.3" y1="1601.8" x2="998.5" y2="1601.8" stroke="#000" stroke-width="2" />
<line x1="756.5" y1="1601.8" x2="756.5" y2="1607.8" stroke="#000" stroke-width="2" />
<line x1="902.5" y1="1601.8" x2="902.5" y2="1607.8" stroke="#000" stroke-width="2" />
<text x="756.1" y="1625.8" font-size="18.5" text-anchor="middle" textLength="80.3" lengthAdjust="spacingAndGlyphs" >AZD4017</text>
<text x="756.1" y="1647.5" font-size="18.5" text-anchor="middle" textLength="136.0" lengthAdjust="spacingAndGlyphs" >+ Prednisolone</text>
<text x="902.4" y="1626.0" font-size="18.5" text-anchor="middle" textLength="71.0" lengthAdjust="spacingAndGlyphs" >Placebo</text>
<text x="902.4" y="1647.5" font-size="18.5" text-anchor="middle" textLength="135.3" lengthAdjust="spacingAndGlyphs" >+ Prednisolone</text>
<rect x="752.60" y="1342.00" width="8.0" height="8.0" fill="#0533ff" stroke="#000" stroke-width="1.6"/>
<rect x="752.60" y="1350.00" width="8.0" height="8.0" fill="#0533ff" stroke="#000" stroke-width="1.6"/>
<rect x="737.00" y="1383.60" width="8.0" height="8.0" fill="#0533ff" stroke="#000" stroke-width="1.6"/>
<rect x="752.60" y="1382.00" width="8.0" height="8.0" fill="#0533ff" stroke="#000" stroke-width="1.6"/>
<rect x="768.40" y="1386.40" width="8.0" height="8.0" fill="#0533ff" stroke="#000" stroke-width="1.6"/>
<rect x="776.60" y="1400.00" width="8.0" height="8.0" fill="#0533ff" stroke="#000" stroke-width="1.6"/>
<rect x="728.60" y="1406.00" width="8.0" height="8.0" fill="#0533ff" stroke="#000" stroke-width="1.6"/>
<rect x="744.40" y="1405.60" width="8.0" height="8.0" fill="#0533ff" stroke="#000" stroke-width="1.6"/>
<rect x="760.40" y="1406.00" width="8.0" height="8.0" fill="#0533ff" stroke="#000" stroke-width="1.6"/>
<rect x="752.60" y="1424.00" width="8.0" height="8.0" fill="#0533ff" stroke="#000" stroke-width="1.6"/>
<rect x="752.60" y="1441.60" width="8.0" height="8.0" fill="#0533ff" stroke="#000" stroke-width="1.6"/>
<rect x="760.40" y="1460.40" width="8.0" height="8.0" fill="#0533ff" stroke="#000" stroke-width="1.6"/>
<rect x="744.40" y="1466.60" width="8.0" height="8.0" fill="#0533ff" stroke="#000" stroke-width="1.6"/>
<rect x="752.60" y="1489.60" width="8.0" height="8.0" fill="#0533ff" stroke="#000" stroke-width="1.6"/>
<rect x="752.60" y="1530.40" width="8.0" height="8.0" fill="#0533ff" stroke="#000" stroke-width="1.6"/>
<line x1="756.6" y1="1387.6" x2="756.6" y2="1464.0" stroke="#000" stroke-width="2.3" />
<line x1="731.3" y1="1387.6" x2="781.9" y2="1387.6" stroke="#000" stroke-width="2.3" />
<line x1="731.3" y1="1464.0" x2="781.9" y2="1464.0" stroke="#000" stroke-width="2.3" />
<line x1="708.0" y1="1410.0" x2="805.0" y2="1410.0" stroke="#000" stroke-width="2.3" />
<rect x="898.40" y="1275.40" width="8.0" height="8.0" fill="#e63c27" stroke="#000" stroke-width="1.6"/>
<rect x="898.40" y="1305.40" width="8.0" height="8.0" fill="#e63c27" stroke="#000" stroke-width="1.6"/>
<rect x="898.40" y="1331.00" width="8.0" height="8.0" fill="#e63c27" stroke="#000" stroke-width="1.6"/>
<rect x="898.40" y="1347.40" width="8.0" height="8.0" fill="#e63c27" stroke="#000" stroke-width="1.6"/>
<rect x="890.40" y="1363.40" width="8.0" height="8.0" fill="#e63c27" stroke="#000" stroke-width="1.6"/>
<rect x="906.60" y="1362.40" width="8.0" height="8.0" fill="#e63c27" stroke="#000" stroke-width="1.6"/>
<rect x="898.40" y="1373.00" width="8.0" height="8.0" fill="#e63c27" stroke="#000" stroke-width="1.6"/>
<rect x="906.60" y="1392.00" width="8.0" height="8.0" fill="#e63c27" stroke="#000" stroke-width="1.6"/>
<rect x="890.40" y="1399.00" width="8.0" height="8.0" fill="#e63c27" stroke="#000" stroke-width="1.6"/>
<rect x="906.60" y="1403.40" width="8.0" height="8.0" fill="#e63c27" stroke="#000" stroke-width="1.6"/>
<rect x="898.40" y="1412.40" width="8.0" height="8.0" fill="#e63c27" stroke="#000" stroke-width="1.6"/>
<rect x="906.60" y="1425.60" width="8.0" height="8.0" fill="#e63c27" stroke="#000" stroke-width="1.6"/>
<rect x="890.40" y="1429.60" width="8.0" height="8.0" fill="#e63c27" stroke="#000" stroke-width="1.6"/>
<rect x="906.60" y="1443.40" width="8.0" height="8.0" fill="#e63c27" stroke="#000" stroke-width="1.6"/>
<rect x="890.40" y="1448.00" width="8.0" height="8.0" fill="#e63c27" stroke="#000" stroke-width="1.6"/>
<line x1="902.4" y1="1351.4" x2="902.4" y2="1429.6" stroke="#000" stroke-width="2.3" />
<line x1="877.5" y1="1351.4" x2="927.3" y2="1351.4" stroke="#000" stroke-width="2.3" />
<line x1="877.5" y1="1429.6" x2="927.3" y2="1429.6" stroke="#000" stroke-width="2.3" />
<line x1="854.0" y1="1396.0" x2="950.6" y2="1396.0" stroke="#000" stroke-width="2.3" />
<path d="M752.5,1564.9 L752.5,1568.3 L901.2,1568.3 L901.2,1564.9" fill="none" stroke="#000" stroke-width="1.8" stroke-linecap="butt" stroke-linejoin="miter"/>
<text x="830.1" y="1587.4" font-size="17.7" text-anchor="middle" textLength="61.6" lengthAdjust="spacingAndGlyphs" >p=0.094</text>
</svg>
</body></html>
